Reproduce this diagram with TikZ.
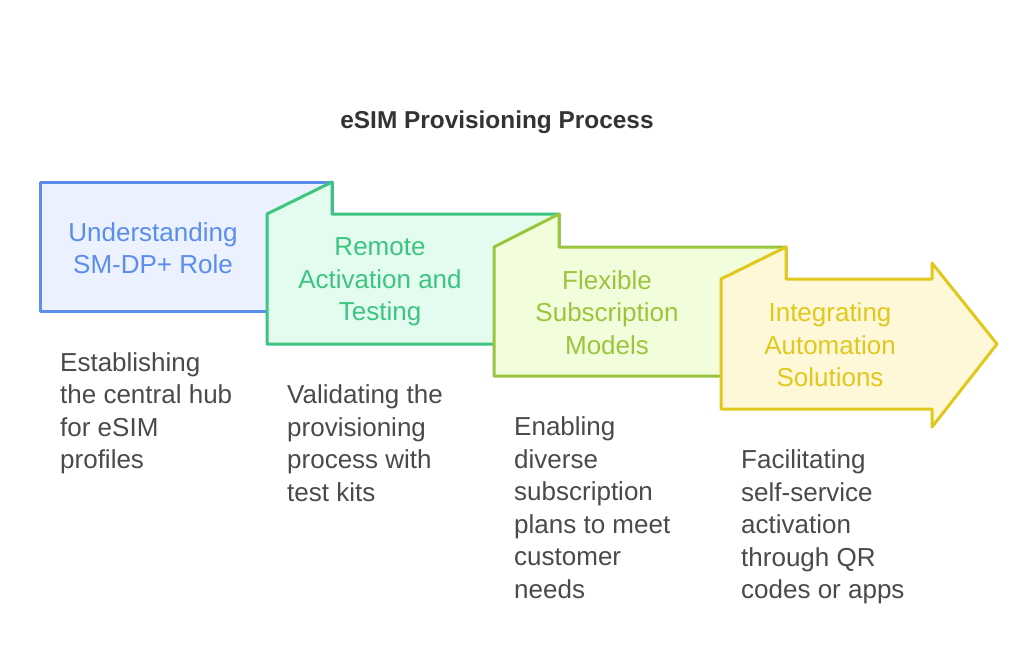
\documentclass[tikz,border=0pt]{standalone}
\usepackage{fontspec}
\setmainfont{Liberation Sans}
\definecolor{bstroke}{HTML}{5A8DEC}
\definecolor{bfill}{HTML}{EBF1FE}
\definecolor{gstroke}{HTML}{3CC580}
\definecolor{gfill}{HTML}{E3FCEF}
\definecolor{lstroke}{HTML}{9BC53C}
\definecolor{lfill}{HTML}{F2FDDC}
\definecolor{ystroke}{HTML}{E0C81C}
\definecolor{yfill}{HTML}{FEF8D9}
\definecolor{desc}{HTML}{4A4A4A}
\definecolor{ttl}{HTML}{333333}
\tikzset{
  shapebox/.style={line width=3pt, line join=round},
  lbl/.style={inner sep=0pt, align=center, font=\fontsize{26}{32.5}\selectfont},
  desctext/.style={inner sep=0pt, align=left, anchor=base west, text=desc, font=\fontsize{26}{32.5}\selectfont},
}
\begin{document}
\begin{tikzpicture}[x=1pt,y=-1pt]
\useasboundingbox (0,0) rectangle (1024,667);
\fill[white] (0,0) rectangle (1024,667);
\node[inner sep=0pt, anchor=base, text=ttl, font=\fontsize{24.4}{29}\selectfont\bfseries] (title) at (497,128) {eSIM Provisioning Process};
% box 1
\draw[shapebox, draw=bstroke, fill=bfill] (40,182) -- (332,182) -- (332,311) -- (40,311) -- cycle;
% box 2
\draw[shapebox, draw=gstroke, fill=gfill] (267,344) -- (267,214) -- (332,182) -- (332,214) -- (559,214) -- (559,344) -- cycle;
% box 3
\draw[shapebox, draw=lstroke, fill=lfill] (494,376) -- (494,247) -- (559,214) -- (559,247) -- (786,247) -- (786,376) -- cycle;
% box 4
\draw[shapebox, draw=ystroke, fill=yfill] (721,409) -- (721,279) -- (786,247) -- (786,279) -- (932,279) -- (932,263) -- (997,344) -- (932,427) -- (932,409) -- cycle;
\node[lbl, text=bstroke] (l1) at (153,248) {Understanding\\SM-DP+ Role};
\node[lbl, text=gstroke] (l2) at (380,282) {Remote\\Activation and\\Testing};
\node[lbl, text=lstroke] (l3) at (607,312.5) {Flexible\\Subscription\\Models};
\node[lbl, text=ystroke] (l4) at (830,345) {Integrating\\Automation\\Solutions};
% descriptions: base anchor = last line's baseline
\node[desctext] (d1) at (60,468.5) {Establishing\\the central hub\\for eSIM\\profiles};
\node[desctext] (d2) at (287,501) {Validating the\\provisioning\\process with\\test kits};
\node[desctext] (d3) at (514,598) {Enabling\\diverse\\subscription\\plans to meet\\customer\\needs};
\node[desctext] (d4) at (741,598.5) {Facilitating\\self-service\\activation\\through QR\\codes or apps};
\end{tikzpicture}
\end{document}
